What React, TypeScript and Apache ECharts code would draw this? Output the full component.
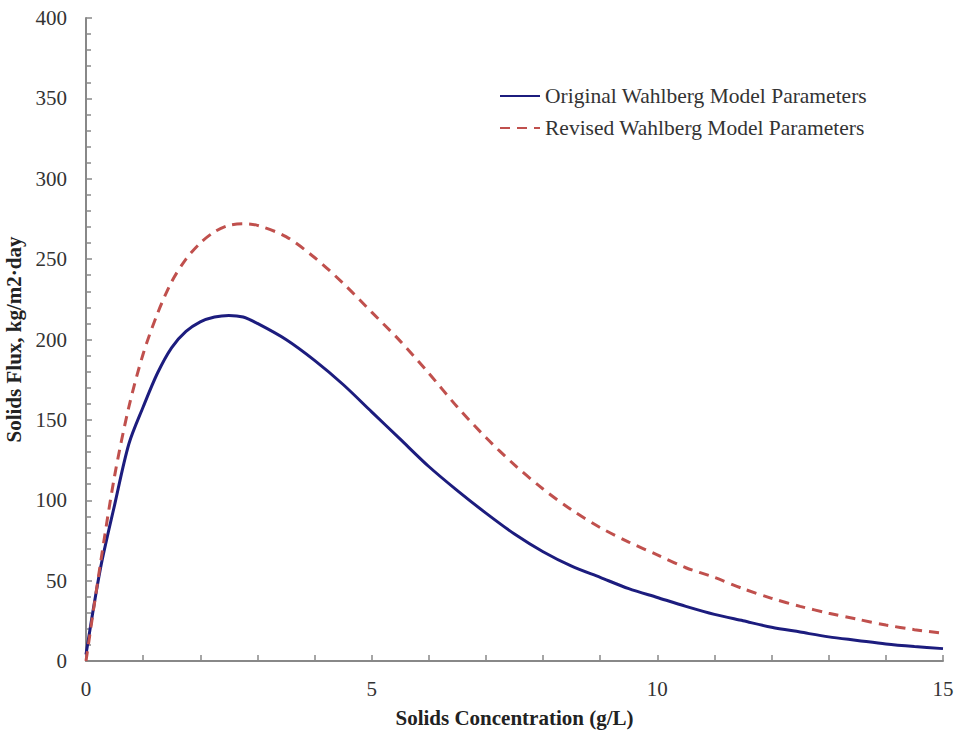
import React, { useEffect, useRef } from "react";
import * as echarts from "echarts";

const concentration = [
  0, 0.25, 0.5, 0.75, 1, 1.25, 1.5, 1.75, 2, 2.25, 2.5, 2.75, 3, 3.5, 4, 4.5, 5,
  5.5, 6, 6.5, 7, 7.5, 8, 8.5, 9, 9.5, 10, 10.5, 11, 11.5, 12, 12.5, 13, 13.5,
  14, 14.5, 15,
];
const originalFlux = [
  4, 57, 97, 135, 158, 179, 195, 205, 211, 214, 215, 214, 210, 200, 187, 172,
  155, 138, 121, 106, 92, 79, 68, 59, 52, 45, 39.5, 34, 29, 25, 21, 18, 15,
  12.8, 10.6, 9, 7.7,
];
const revisedFlux = [
  0, 60, 115, 158, 191, 216, 236, 250, 260, 267, 271, 272, 271, 264, 251, 235,
  217, 199, 179, 158, 139, 122, 107, 94, 83, 74, 66, 58, 52, 45, 39, 34, 29.7,
  26, 22.4, 19.5, 17.2,
];
const seriesNames = [
  "Original Wahlberg Model Parameters",
  "Revised Wahlberg Model Parameters",
];
const xTitle = "Solids Concentration (g/L)";
const yTitle = "Solids Flux, kg/m2·day";

const FONT = "'Liberation Serif', 'Times New Roman', serif";

export default function App() {
  const ref = useRef<HTMLDivElement>(null);
  useEffect(() => {
    if (!ref.current) return;
    const chart = echarts.init(ref.current, undefined, { renderer: "svg" });
    const axisColor = "#888888";
    chart.setOption({
      animation: false,
      backgroundColor: "#ffffff",
      grid: {
        left: 86,
        right: 15,
        top: 18,
        bottom: 71,
        containLabel: false,
        outerBoundsMode: "none",
      },
      legend: {
        orient: "vertical",
        left: 494,
        top: 80,
        itemWidth: 40,
        itemHeight: 14,
        itemGap: 10,
        itemStyle: { opacity: 0 },
        textStyle: {
          fontFamily: FONT,
          fontSize: 21.5,
          lineHeight: 22,
          color: "#333333",
        },
        data: seriesNames,
      },
      xAxis: {
        type: "value",
        min: 0,
        max: 15,
        interval: 1,
        name: xTitle,
        nameLocation: "middle",
        nameGap: 46,
        nameTextStyle: {
          fontFamily: FONT,
          fontSize: 21,
          fontWeight: "bold",
          color: "#222222",
        },
        axisLine: { lineStyle: { color: axisColor, width: 2 } },
        axisTick: {
          inside: true,
          length: 6,
          lineStyle: { color: axisColor, width: 1.5 },
        },
        axisLabel: {
          margin: 17,
          fontFamily: FONT,
          fontSize: 21,
          color: "#333333",
          formatter: (v: number) => (v % 5 === 0 ? String(v) : ""),
        },
        splitLine: { show: false },
      },
      yAxis: {
        type: "value",
        min: 0,
        max: 400,
        interval: 50,
        name: yTitle,
        nameLocation: "middle",
        nameGap: 57,
        nameTextStyle: {
          fontFamily: FONT,
          fontSize: 21,
          fontWeight: "bold",
          color: "#222222",
        },
        axisLine: { show: true, lineStyle: { color: axisColor, width: 2 } },
        axisTick: {
          show: true,
          inside: true,
          length: 6,
          lineStyle: { color: axisColor, width: 1.5 },
        },
        minorTick: {
          show: true,
          splitNumber: 5,
          length: 5,
          lineStyle: { color: axisColor, width: 1.5 },
        },
        axisLabel: {
          margin: 19,
          fontFamily: FONT,
          fontSize: 21,
          color: "#333333",
        },
        splitLine: { show: false },
      },
      series: [
        {
          name: seriesNames[0],
          type: "line",
          smooth: 0.3,
          showSymbol: false,
          symbol: "none",
          data: concentration.map((x, i) => [x, originalFlux[i]]),
          lineStyle: { color: "#1c1c7e", width: 3 },
          itemStyle: { color: "#1c1c7e" },
        },
        {
          name: seriesNames[1],
          type: "line",
          smooth: 0.3,
          showSymbol: false,
          symbol: "none",
          data: concentration.map((x, i) => [x, revisedFlux[i]]),
          lineStyle: { color: "#c0504d", width: 3, type: [10, 7] },
          itemStyle: { color: "#c0504d" },
        },
      ],
    });
    return () => chart.dispose();
  }, []);
  return (
    <div
      ref={ref}
      style={{ position: "fixed", left: 0, top: 0, width: 958, height: 732 }}
    />
  );
}
